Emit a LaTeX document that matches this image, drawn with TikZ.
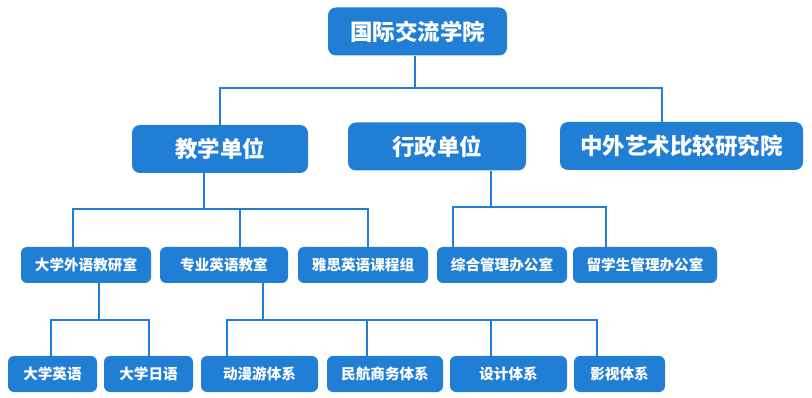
\documentclass[tikz,border=0pt]{standalone}
\usepackage{fontspec}
\newfontfamily\cjk{Noto Sans CJK SC}
\definecolor{boxblue}{RGB}{32,126,212}
\tikzset{
  bigbox/.style={fill=boxblue, text=white, rounded corners=8pt, inner sep=0pt,
    minimum height=48pt, font=\cjk\bfseries\fontsize{22.5}{24}\selectfont},
  smallbox/.style={fill=boxblue, text=white, rounded corners=6pt, inner sep=0pt,
    minimum height=36pt, font=\cjk\bfseries\fontsize{14.6}{16}\selectfont},
  conn/.style={draw=boxblue, line width=2pt}
}
\begin{document}
\begin{tikzpicture}[x=1pt,y=-1pt]
\useasboundingbox (0,0) rectangle (812,398);
% level 1
\node[bigbox, minimum width=179pt] (top) at (417.5,31.5) {国际交流学院};
% level 2
\node[bigbox, minimum width=176pt] (jx) at (220,149) {教学单位};
\node[bigbox, minimum width=178pt] (xz) at (437,146.5) {行政单位};
\node[bigbox, minimum width=243pt] (zw) at (681.5,146) {中外艺术比较研究院};
% level 3
\node[smallbox, minimum width=130pt] (dw) at (86,265) {大学外语教研室};
\node[smallbox, minimum width=128pt] (zy) at (224,265) {专业英语教室};
\node[smallbox, minimum width=130pt] (ys) at (363,265) {雅思英语课程组};
\node[smallbox, minimum width=130pt] (zh) at (502,265) {综合管理办公室};
\node[smallbox, minimum width=144pt] (lx) at (645,265) {留学生管理办公室};
% level 4
\node[smallbox, minimum width=89pt] (dy) at (52.5,374) {大学英语};
\node[smallbox, minimum width=89pt] (dr) at (148.5,374) {大学日语};
\node[smallbox, minimum width=117pt] (dm) at (259.5,374) {动漫游体系};
\node[smallbox, minimum width=116pt] (mh) at (385,374) {民航商务体系};
\node[smallbox, minimum width=117pt] (sj) at (508.5,374) {设计体系};
\node[smallbox, minimum width=91pt] (yx) at (619.5,374) {影视体系};
% bus coordinates
\coordinate (a0) at (415,88);
\coordinate (a1) at (220,88);
\coordinate (a2) at (662,88);
\coordinate (b0) at (204,209);
\coordinate (b1) at (73,209);
\coordinate (b2) at (240,209);
\coordinate (b3) at (368,209);
\coordinate (c0) at (491,207);
\coordinate (c1) at (453,207);
\coordinate (c2) at (606,207);
\coordinate (e0) at (99,320);
\coordinate (e1) at (51,320);
\coordinate (e2) at (149,320);
\coordinate (f0) at (263,320);
\coordinate (f1) at (227,320);
\coordinate (f2) at (367,320);
\coordinate (f3) at (491,320);
\coordinate (f4) at (597,320);
% connectors
\draw[conn] (top.south -| a0) -- (a0);
\draw[conn] (jx.north -| a1) -- (a1) -- (a2) -- (zw.north -| a2);
\draw[conn] (jx.south -| b0) -- (b0);
\draw[conn] (dw.north -| b1) -- (b1) -- (b3) -- (ys.north -| b3);
\draw[conn] (b2) -- (zy.north -| b2);
\draw[conn] (xz.south -| c0) -- (c0);
\draw[conn] (zh.north -| c1) -- (c1) -- (c2) -- (lx.north -| c2);
\draw[conn] (dw.south -| e0) -- (e0);
\draw[conn] (dy.north -| e1) -- (e1) -- (e2) -- (dr.north -| e2);
\draw[conn] (zy.south -| f0) -- (f0);
\draw[conn] (dm.north -| f1) -- (f1) -- (f4) -- (yx.north -| f4);
\draw[conn] (f2) -- (mh.north -| f2);
\draw[conn] (f3) -- (sj.north -| f3);
\end{tikzpicture}
\end{document}
